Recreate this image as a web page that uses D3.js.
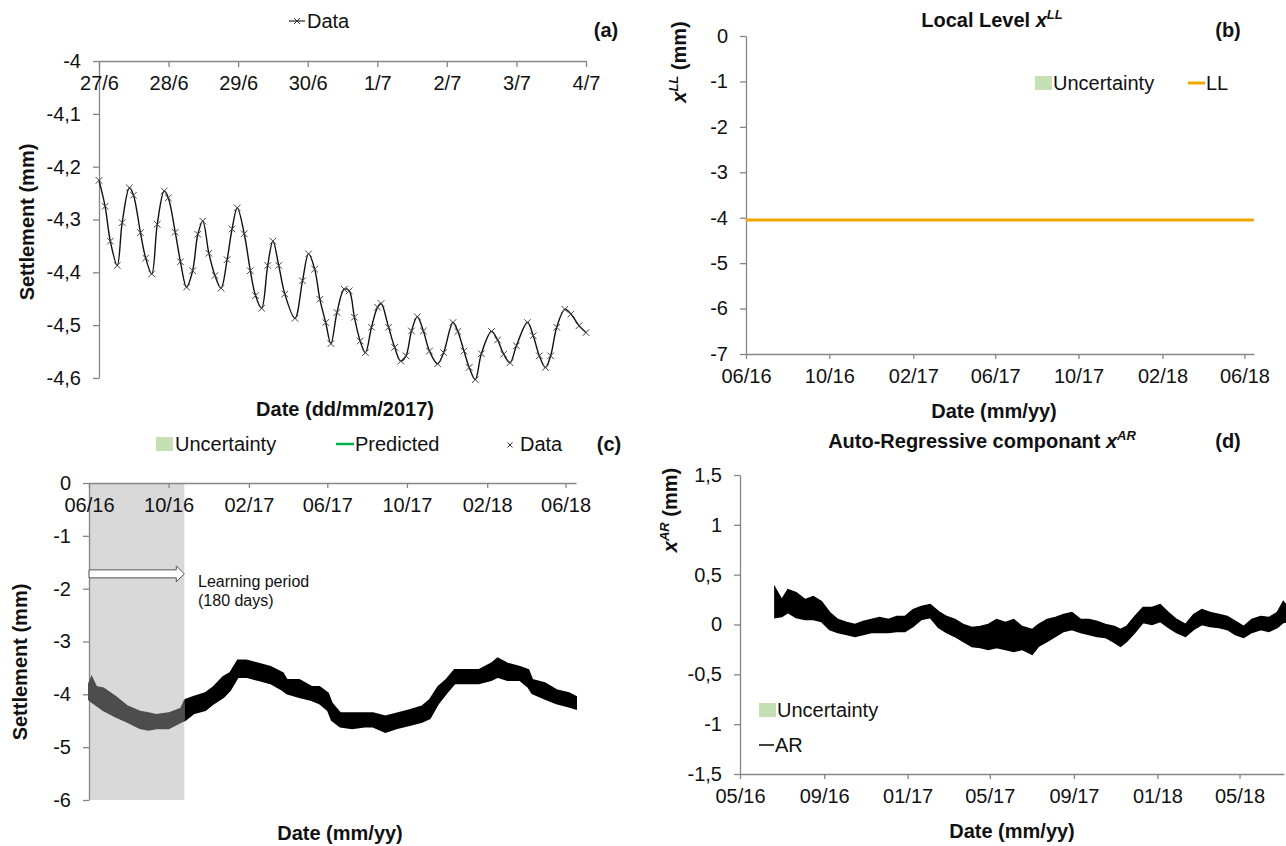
<!DOCTYPE html>
<html>
<head>
<meta charset="utf-8">
<script src="https://cdn.jsdelivr.net/npm/d3@7"></script>
<style>
  body { margin: 0; background: #fff; }
  svg { display: block; }
</style>
</head>
<body>
<div id="chart"></div>
<script>
// ---- panel (a): hourly data, 27/6 -> 4/7 2017
const hoursA = [0, 2.1, 3.9, 6.3, 8.0, 10.5, 11.9, 14.3, 16.1, 18.2, 20.1, 22.5, 23.9, 26.3, 28.1, 30.2,
  32.3, 34.1, 35.8, 37.9, 40.0, 42.1, 44.2, 45.9, 47.7, 50.1, 52.2, 54.0, 56.1, 58.2, 60.0, 62.0,
  64.1, 67.6, 70.2, 72.3, 74.4, 76.2, 78.2, 80.0, 82.1, 84.6, 86.3, 88.1, 90.1, 91.9, 94.0, 96.1,
  97.3, 99.9, 102.0, 104.1, 105.9, 107.8, 109.8, 111.9, 114.0, 116.8, 118.9, 122.1, 123.8, 125.9,
  127.7, 129.8, 131.9, 135.4, 137.5, 139.6, 141.8, 144.0, 147.8, 149.8, 151.9, 154.0, 155.8, 157.9,
  160.7, 162.8, 165.6, 168.0];
const settlementA = [-4.226, -4.275, -4.341, -4.387, -4.306, -4.240, -4.254, -4.325, -4.373, -4.403, -4.309, -4.246, -4.259, -4.324, -4.380, -4.428,
  -4.397, -4.328, -4.303, -4.364, -4.406, -4.430, -4.376, -4.318, -4.278, -4.327, -4.397, -4.444, -4.468, -4.387, -4.341, -4.387,
  -4.441, -4.487, -4.416, -4.365, -4.394, -4.451, -4.495, -4.535, -4.476, -4.432, -4.435, -4.485, -4.530, -4.552, -4.504, -4.466,
  -4.459, -4.504, -4.542, -4.568, -4.558, -4.511, -4.484, -4.511, -4.549, -4.573, -4.552, -4.495, -4.512, -4.549,
  -4.580, -4.603, -4.554, -4.512, -4.528, -4.555, -4.571, -4.539, -4.495, -4.520, -4.558, -4.580, -4.558, -4.504,
  -4.470, -4.479, -4.501, -4.514];
const tickHoursA = [0, 24, 48, 72, 96, 120, 144, 168];
const tickLabelsA = ["27/6", "28/6", "29/6", "30/6", "1/7", "2/7", "3/7", "4/7"];
const yTicksA = [-4, -4.1, -4.2, -4.3, -4.4, -4.5, -4.6];

// ---- panel (b): local level
const llDates = ["2016-06-01", "2017-06-01", "2018-06-15"];
const llValues = [-4.05, -4.05, -4.05];
const xTicksB = ["2016-06-01", "2016-10-01", "2017-02-01", "2017-06-01", "2017-10-01", "2018-02-01", "2018-06-01"];
const yTicksB = [0, -1, -2, -3, -4, -5, -6, -7];

// ---- panel (c): data envelope (upper / lower edge of the dense marker band)
const cDates = ["2016-06-01", "2016-06-05", "2016-06-12", "2016-06-23", "2016-07-12", "2016-07-30", "2016-08-18", "2016-08-31",
  "2016-09-12", "2016-10-01", "2016-10-20", "2016-10-26", "2016-11-08", "2016-11-26", "2016-12-09", "2016-12-24",
  "2017-01-03", "2017-01-15", "2017-01-28", "2017-02-16", "2017-03-06", "2017-03-25", "2017-03-31", "2017-04-19",
  "2017-05-08", "2017-05-20", "2017-06-02", "2017-06-08", "2017-06-21", "2017-07-09", "2017-07-28", "2017-08-10",
  "2017-08-29", "2017-09-16", "2017-10-05", "2017-10-24", "2017-11-05", "2017-11-18", "2017-11-30", "2017-12-13",
  "2018-01-01", "2018-01-19", "2018-02-07", "2018-02-17", "2018-03-04", "2018-03-23", "2018-04-05", "2018-04-11",
  "2018-04-30", "2018-05-18", "2018-06-06", "2018-06-17"];
const cHigh = [-3.80, -3.68, -3.86, -3.89, -4.05, -4.23, -4.33, -4.36, -4.39, -4.36, -4.27, -4.11, -4.05, -3.98, -3.86, -3.67,
  -3.60, -3.36, -3.36, -3.42, -3.48, -3.60, -3.73, -3.73, -3.86, -3.86, -3.98, -4.17, -4.36, -4.36, -4.36, -4.36,
  -4.42, -4.36, -4.30, -4.23, -4.11, -3.86, -3.73, -3.54, -3.54, -3.54, -3.42, -3.32, -3.42, -3.48, -3.54, -3.73,
  -3.79, -3.92, -3.98, -4.05];
const cLow = [-4.10, -4.14, -4.20, -4.30, -4.42, -4.52, -4.64, -4.67, -4.64, -4.64, -4.52, -4.49, -4.36, -4.30, -4.17, -4.05,
  -3.92, -3.67, -3.67, -3.73, -3.79, -3.92, -3.98, -4.05, -4.11, -4.17, -4.30, -4.49, -4.61, -4.64, -4.61, -4.61,
  -4.71, -4.64, -4.58, -4.52, -4.45, -4.17, -3.98, -3.79, -3.79, -3.79, -3.73, -3.67, -3.73, -3.73, -3.86, -3.98,
  -4.08, -4.17, -4.23, -4.27];
const learnStart = "2016-06-01";
const learnEnd = "2016-10-25";
const arrowLevel = -1.72;
const xTicksC = xTicksB;
const yTicksC = [0, -1, -2, -3, -4, -5, -6];

// ---- panel (d): auto-regressive component envelope
const dDates = ["2016-06-21", "2016-07-01", "2016-07-10", "2016-07-22", "2016-08-04", "2016-08-16", "2016-08-28", "2016-09-09",
  "2016-09-21", "2016-10-04", "2016-10-16", "2016-10-28", "2016-11-09", "2016-11-21", "2016-12-04", "2016-12-16",
  "2016-12-28", "2017-01-09", "2017-01-21", "2017-02-03", "2017-02-15", "2017-02-27", "2017-03-11", "2017-03-23",
  "2017-04-05", "2017-04-17", "2017-04-29", "2017-05-11", "2017-05-24", "2017-06-05", "2017-06-17", "2017-07-02",
  "2017-07-11", "2017-07-24", "2017-08-05", "2017-08-17", "2017-08-29", "2017-09-11", "2017-09-23", "2017-10-05",
  "2017-10-17", "2017-10-30", "2017-11-08", "2017-11-17", "2017-11-29", "2017-12-11", "2017-12-24", "2018-01-05",
  "2018-01-17", "2018-01-29", "2018-02-11", "2018-02-23", "2018-03-07", "2018-03-19", "2018-04-01", "2018-04-13",
  "2018-04-25", "2018-05-07", "2018-05-19", "2018-06-01", "2018-06-13", "2018-06-25", "2018-07-04", "2018-07-10"];
const dHigh = [0.37, 0.25, 0.35, 0.32, 0.25, 0.28, 0.23, 0.12, 0.05, 0.02, 0.00, 0.03, 0.05, 0.07, 0.05, 0.08,
  0.08, 0.15, 0.18, 0.20, 0.13, 0.08, 0.05, 0.00, -0.03, -0.02, 0.00, 0.05, 0.02, 0.05, -0.02, -0.05,
  0.00, 0.05, 0.07, 0.10, 0.12, 0.05, 0.05, 0.03, 0.00, -0.02, -0.05, -0.02, 0.08, 0.17, 0.17, 0.20,
  0.12, 0.05, 0.00, 0.10, 0.15, 0.12, 0.10, 0.08, 0.03, -0.02, 0.05, 0.08, 0.07, 0.12, 0.23, 0.18];
const dLow = [0.07, 0.08, 0.12, 0.07, 0.05, 0.05, 0.03, -0.05, -0.08, -0.10, -0.12, -0.10, -0.08, -0.08, -0.08, -0.07,
  -0.07, -0.02, 0.05, 0.07, -0.03, -0.08, -0.12, -0.17, -0.22, -0.23, -0.25, -0.23, -0.25, -0.27, -0.25, -0.30,
  -0.22, -0.17, -0.12, -0.07, -0.05, -0.08, -0.10, -0.12, -0.13, -0.18, -0.22, -0.17, -0.08, 0.02, 0.00, 0.03,
  -0.03, -0.08, -0.12, -0.05, 0.00, -0.02, -0.03, -0.05, -0.10, -0.13, -0.08, -0.05, -0.07, -0.03, 0.02, 0.03];
const xTicksD = ["2016-05-01", "2016-09-01", "2017-01-01", "2017-05-01", "2017-09-01", "2018-01-01", "2018-05-01"];
const yTicksD = [1.5, 1, 0.5, 0, -0.5, -1, -1.5];

// ---- setup
const width = 1286;
const height = 846;
const FONT = "'Liberation Sans', Arial, sans-serif";
const GREY = "#868686";
const UNC_GREEN = "#c5e0b4";
const PRED_GREEN = "#00b050";
const LL_ORANGE = "#f0a800";
const parse = d3.timeParse("%Y-%m-%d");
const comma = v => String(v).replace(".", ",");

const svg = d3.select("#chart")
  .append("svg")
  .attr("width", width)
  .attr("height", height)
  .attr("font-family", FONT);

function styleAxis(g, size) {
  g.attr("font-family", FONT).attr("font-size", size);
  g.select(".domain").attr("stroke", GREY).attr("stroke-width", 1.3);
  g.selectAll(".tick line").attr("stroke", GREY).attr("stroke-width", 1.3);
  g.selectAll(".tick text").attr("fill", "#111");
}

function yAxis(scale, x, ticks) {
  const g = svg.append("g")
    .attr("transform", `translate(${x},0)`)
    .call(d3.axisLeft(scale).tickValues(ticks).tickFormat(comma).tickSize(6).tickSizeOuter(0).tickPadding(12));
  styleAxis(g, 20);
  return g;
}

function xAxis(scale, y, ticks, fmt) {
  const g = svg.append("g")
    .attr("transform", `translate(0,${y})`)
    .call(d3.axisBottom(scale).tickValues(ticks).tickFormat(fmt).tickSize(5).tickSizeOuter(0).tickPadding(10));
  styleAxis(g, 20);
  return g;
}

function label(x, y, txt, opts = {}) {
  return svg.append("text")
    .attr("x", x).attr("y", y)
    .attr("text-anchor", opts.anchor || "middle")
    .attr("dominant-baseline", "central")
    .attr("font-size", opts.size || 20)
    .attr("font-weight", opts.bold ? "bold" : "normal")
    .attr("fill", "#111")
    .text(txt);
}

function rotLabel(x, y, parts) {
  const t = svg.append("text")
    .attr("transform", `translate(${x},${y}) rotate(-90)`)
    .attr("text-anchor", "middle")
    .attr("font-size", 20)
    .attr("font-weight", "bold")
    .attr("fill", "#111");
  parts.forEach(p => {
    const s = t.append("tspan").text(p.text);
    if (p.italic) s.attr("font-style", "italic");
    if (p.sup) s.attr("font-size", 13).attr("dy", -8);
    if (p.after) s.attr("dy", 8);
  });
  return t;
}

function titleSup(x, y, parts) {
  const t = svg.append("text")
    .attr("x", x).attr("y", y)
    .attr("text-anchor", "middle")
    .attr("font-size", 20)
    .attr("font-weight", "bold")
    .attr("fill", "#111");
  parts.forEach(p => {
    const s = t.append("tspan").text(p.text);
    if (p.italic) s.attr("font-style", "italic");
    if (p.sup) s.attr("font-size", 13).attr("dy", -8);
  });
  return t;
}

function cross(sel, r) {
  sel.append("path")
    .attr("d", d => `M${-r},${-r}L${r},${r}M${-r},${r}L${r},${-r}`);
}

// ================= panel (a)
const xA = d3.scaleLinear().domain([0, 168]).range([99, 586]);
const yA = d3.scaleLinear().domain([-4.6, -4]).range([378, 61]);
yAxis(yA, 99, yTicksA);
xAxis(xA, 61, tickHoursA, (d, i) => tickLabelsA[i]).call(g => g.selectAll(".tick line").attr("y2", 6));

const dataA = hoursA.map((h, i) => ({ h: h, v: settlementA[i] }));
svg.append("path")
  .datum(dataA)
  .attr("fill", "none")
  .attr("stroke", "#111")
  .attr("stroke-width", 1.4)
  .attr("d", d3.line().x(d => xA(d.h)).y(d => yA(d.v)).curve(d3.curveCatmullRom.alpha(0.5)));

svg.append("g")
  .attr("stroke", "#444")
  .attr("stroke-width", 1)
  .selectAll("g")
  .data(dataA)
  .join("g")
  .attr("transform", d => `translate(${xA(d.h)},${yA(d.v)})`)
  .call(cross, 3.3);

// legend (a)
svg.append("line").attr("x1", 289).attr("x2", 305).attr("y1", 21).attr("y2", 21).attr("stroke", "#333").attr("stroke-width", 1.3);
svg.append("g").attr("transform", "translate(297,21)").attr("stroke", "#333").datum(0).call(cross, 3);
label(307, 21, "Data", { anchor: "start" });
label(606, 30, "(a)", { bold: true });
rotLabel(34, 222, [{ text: "Settlement (mm)" }]);
label(345, 409, "Date (dd/mm/2017)", { bold: true });

// ================= panel (b)
const xB = d3.scaleTime().domain([parse("2016-06-01"), parse("2018-06-15")]).range([746, 1254]);
const yB = d3.scaleLinear().domain([-7, 0]).range([354, 36]);
yAxis(yB, 746, yTicksB);
xAxis(xB, 354, xTicksB.map(parse), d3.timeFormat("%m/%y"));

svg.append("path")
  .datum(llDates.map((d, i) => ({ t: parse(d), v: llValues[i] })))
  .attr("fill", "none")
  .attr("stroke", LL_ORANGE)
  .attr("stroke-width", 3)
  .attr("d", d3.line().x(d => xB(d.t)).y(d => yB(d.v)));

titleSup(992, 27, [{ text: "Local Level " }, { text: "x", italic: true }, { text: "LL", italic: true, sup: true }]);
label(1228, 30, "(b)", { bold: true });
svg.append("rect").attr("x", 1035).attr("y", 76).attr("width", 17).attr("height", 14).attr("fill", UNC_GREEN);
label(1053, 83, "Uncertainty", { anchor: "start" });
svg.append("line").attr("x1", 1188).attr("x2", 1205).attr("y1", 83).attr("y2", 83).attr("stroke", LL_ORANGE).attr("stroke-width", 3);
label(1206, 83, "LL", { anchor: "start" });
rotLabel(686, 62, [{ text: "x", italic: true }, { text: "LL", italic: true, sup: true }, { text: " (mm)", after: true }]);
label(994, 411, "Date (mm/yy)", { bold: true });

// ================= panel (c)
const xC = d3.scaleTime().domain([parse("2016-06-01"), parse("2018-06-17")]).range([89, 576]);
const yC = d3.scaleLinear().domain([-6, 0]).range([800, 483]);

svg.append("rect")
  .attr("x", xC(parse(learnStart)))
  .attr("y", yC(0))
  .attr("width", xC(parse(learnEnd)) - xC(parse(learnStart)))
  .attr("height", yC(-6) - yC(0))
  .attr("fill", "#d9d9d9");

yAxis(yC, 89, yTicksC);
xAxis(xC, 483, xTicksC.map(parse), d3.timeFormat("%m/%y"));

const dataC = cDates.map((d, i) => ({ t: parse(d), hi: cHigh[i], lo: cLow[i] }));
const areaC = d3.area().x(d => xC(d.t)).y0(d => yC(d.lo)).y1(d => yC(d.hi)).curve(d3.curveLinear);

svg.append("clipPath").attr("id", "learn")
  .append("rect")
  .attr("x", xC(parse(learnStart)) - 5)
  .attr("y", yC(0))
  .attr("width", xC(parse(learnEnd)) - xC(parse(learnStart)) + 5)
  .attr("height", yC(-6) - yC(0));
svg.append("clipPath").attr("id", "after")
  .append("rect")
  .attr("x", xC(parse(learnEnd)))
  .attr("y", yC(0))
  .attr("width", 600)
  .attr("height", yC(-6) - yC(0));

svg.append("path").datum(dataC).attr("clip-path", "url(#after)")
  .attr("fill", "#000").attr("stroke", "#000").attr("stroke-width", 2).attr("d", areaC);
svg.append("path").datum(dataC).attr("clip-path", "url(#learn)")
  .attr("fill", "#4d4d4d").attr("stroke", "#4d4d4d").attr("stroke-width", 2).attr("d", areaC);

// learning-period arrow
{
  const x0 = xC(parse(learnStart)), x1 = xC(parse(learnEnd)), yy = yC(arrowLevel);
  const hl = 8, bh = 4, hh = 8;
  svg.append("path")
    .attr("d", `M${x0},${yy - bh}L${x1 - hl},${yy - bh}L${x1 - hl},${yy - hh}L${x1},${yy}L${x1 - hl},${yy + hh}L${x1 - hl},${yy + bh}L${x0},${yy + bh}Z`)
    .attr("fill", "#fff")
    .attr("stroke", "#555")
    .attr("stroke-width", 1);
}
label(198, 581, "Learning period", { anchor: "start", size: 16 });
label(198, 600, "(180 days)", { anchor: "start", size: 16 });

// legend (c)
svg.append("rect").attr("x", 156).attr("y", 437).attr("width", 17).attr("height", 14).attr("fill", UNC_GREEN);
label(175, 444, "Uncertainty", { anchor: "start" });
svg.append("line").attr("x1", 336).attr("x2", 354).attr("y1", 444).attr("y2", 444).attr("stroke", PRED_GREEN).attr("stroke-width", 2.5);
label(355, 444, "Predicted", { anchor: "start" });
svg.append("g").attr("transform", "translate(510,445)").attr("stroke", "#333").datum(0).call(cross, 2.5);
label(520, 444, "Data", { anchor: "start" });
label(609, 444, "(c)", { bold: true });
rotLabel(27, 662, [{ text: "Settlement (mm)" }]);
label(340, 833, "Date (mm/yy)", { bold: true });

// ================= panel (d)
const xD = d3.scaleTime().domain([parse("2016-05-01"), parse("2018-07-05")]).range([740, 1284]);
const yD = d3.scaleLinear().domain([-1.5, 1.5]).range([774, 475]);
yAxis(yD, 740, yTicksD);
xAxis(xD, 774, xTicksD.map(parse), d3.timeFormat("%m/%y"));

const dataD = dDates.map((d, i) => ({ t: parse(d), hi: dHigh[i], lo: dLow[i] }));
svg.append("path").datum(dataD)
  .attr("fill", "#000").attr("stroke", "#000").attr("stroke-width", 1.5)
  .attr("d", d3.area().x(d => xD(d.t)).y0(d => yD(d.lo)).y1(d => yD(d.hi)));

titleSup(982, 448, [{ text: "Auto-Regressive componant " }, { text: "x", italic: true }, { text: "AR", italic: true, sup: true }]);
label(1228, 441, "(d)", { bold: true });
svg.append("rect").attr("x", 759).attr("y", 703).attr("width", 17).attr("height", 14).attr("fill", UNC_GREEN);
label(777, 710, "Uncertainty", { anchor: "start" });
svg.append("line").attr("x1", 759).attr("x2", 774).attr("y1", 745).attr("y2", 745).attr("stroke", "#000").attr("stroke-width", 1.5);
label(775, 745, "AR", { anchor: "start" });
rotLabel(677, 510, [{ text: "x", italic: true }, { text: "AR", italic: true, sup: true }, { text: " (mm)", after: true }]);
label(1012, 831, "Date (mm/yy)", { bold: true });
</script>
</body>
</html>
